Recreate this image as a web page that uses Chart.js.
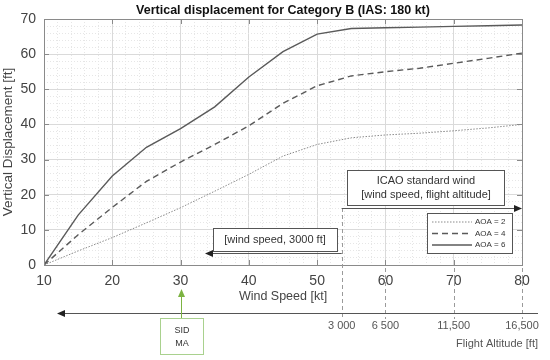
<!DOCTYPE html>
<html>
<head>
<meta charset="utf-8">
<script src="https://cdn.jsdelivr.net/npm/chart.js@4.4.1/dist/chart.umd.min.js"></script>
<style>
  html, body { margin: 0; padding: 0; background: #fff; }
  #wrap { width: 550px; height: 360px; }
</style>
</head>
<body>
<div id="wrap"><canvas id="dispChart"></canvas></div>
<script>
/* ================= DATA ================= */

const windSpeeds = [10, 15, 20, 25, 30, 35, 40, 45, 50, 55, 60, 65, 70, 75, 80];

const aoa2 = [0, 4, 7.8, 12, 16.3, 21, 25.8, 31, 34.3, 36.2, 37, 37.5, 38.2, 39, 40];
const aoa4 = [0, 8.6, 16.4, 23.8, 29.3, 34.3, 39.6, 46, 51, 53.8, 55, 56, 57.4, 58.8, 60.3];
const aoa6 = [0, 14.2, 25.3, 33.5, 38.8, 45, 53.5, 60.7, 65.7, 67.3, 67.5, 67.7, 67.9, 68.1, 68.3];

const seriesNames = ["AOA = 2", "AOA = 4", "AOA = 6"];

// flight altitude scale under the wind speed axis
const altitudeAt = [53.6, 60, 70, 80];
const altitudeLabels = ["3 000", "6 500", "11,500", "16,500"];

const FONT = "'Liberation Sans', Arial, sans-serif";

/* ================= HELPERS ================= */

function arrowHead(ctx, x, y, dir) {
  ctx.beginPath();
  ctx.moveTo(x, y);
  ctx.lineTo(x - dir * 8, y - 3.5);
  ctx.lineTo(x - dir * 8, y + 3.5);
  ctx.closePath();
  ctx.fill();
}

/* ================= EXTRA DRAWING ================= */

const extrasPlugin = {
  id: "extras",
  afterDraw(chart) {
    const ctx = chart.ctx;
    const area = chart.chartArea;
    const xs = chart.scales.x;
    const ys = chart.scales.y;

    ctx.save();

    // plot box + inward ticks
    ctx.strokeStyle = "#8a8a8a";
    ctx.lineWidth = 1;
    ctx.strokeRect(area.left + 0.5, area.top + 0.5, area.right - area.left, area.bottom - area.top);
    ctx.beginPath();
    for (let v = 20; v < 80; v += 10) {
      const px = Math.round(xs.getPixelForValue(v)) + 0.5;
      ctx.moveTo(px, area.bottom); ctx.lineTo(px, area.bottom - 5);
      ctx.moveTo(px, area.top); ctx.lineTo(px, area.top + 5);
    }
    for (let v = 10; v < 70; v += 10) {
      const py = Math.round(ys.getPixelForValue(v)) + 0.5;
      ctx.moveTo(area.left, py); ctx.lineTo(area.left + 5, py);
      ctx.moveTo(area.right, py); ctx.lineTo(area.right - 5, py);
    }
    ctx.stroke();

    // legend
    const lx = 427, ly = 213;
    ctx.fillStyle = "#fff";
    ctx.fillRect(lx, ly, 85, 40);
    ctx.strokeStyle = "#555";
    ctx.strokeRect(lx + 0.5, ly + 0.5, 85, 40);
    ctx.font = "8px " + FONT;
    ctx.textBaseline = "middle";
    chart.data.datasets.forEach((ds, i) => {
      const yy = ly + 9 + i * 11.5;
      ctx.strokeStyle = ds.borderColor;
      ctx.lineWidth = ds.borderWidth;
      ctx.setLineDash(ds.borderDash || []);
      ctx.beginPath();
      ctx.moveTo(lx + 5, yy);
      ctx.lineTo(lx + 45, yy);
      ctx.stroke();
      ctx.setLineDash([]);
      ctx.fillStyle = "#333";
      ctx.textAlign = "left";
      ctx.fillText(ds.label, lx + 48, yy);
    });
    ctx.lineWidth = 1;

    // dashed guides down to altitude axis
    const startPx = xs.getPixelForValue(altitudeAt[0]);
    ctx.strokeStyle = "#9a9a9a";
    ctx.setLineDash([4, 3]);
    ctx.beginPath();
    altitudeAt.forEach((v, i) => {
      const px = Math.round(xs.getPixelForValue(v)) + 0.5;
      ctx.moveTo(px, i === 0 ? 208 : area.bottom + 3);
      ctx.lineTo(px, 319);
    });
    ctx.stroke();
    ctx.setLineDash([]);

    // ICAO box + arrow right
    ctx.fillStyle = "#fff";
    ctx.fillRect(347, 170, 157, 35);
    ctx.strokeStyle = "#555";
    ctx.strokeRect(347.5, 170.5, 157, 35);
    ctx.fillStyle = "#333";
    ctx.font = "11px " + FONT;
    ctx.textAlign = "center";
    ctx.fillText("ICAO standard wind", 426, 181);
    ctx.fillText("[wind speed, flight altitude]", 426, 195);
    ctx.beginPath();
    ctx.moveTo(startPx, 208.5);
    ctx.lineTo(area.right - 2, 208.5);
    ctx.stroke();
    ctx.fillStyle = "#222";
    arrowHead(ctx, area.right, 208.5, 1);

    // 3000 ft box + arrow left
    ctx.fillStyle = "#fff";
    ctx.fillRect(213, 228, 124, 23);
    ctx.strokeRect(213.5, 228.5, 124, 23);
    ctx.fillStyle = "#333";
    ctx.fillText("[wind speed, 3000 ft]", 275, 240);
    ctx.beginPath();
    ctx.moveTo(startPx, 253.5);
    ctx.lineTo(208, 253.5);
    ctx.stroke();
    ctx.fillStyle = "#222";
    arrowHead(ctx, 205, 253.5, -1);

    // flight altitude axis
    ctx.strokeStyle = "#555";
    ctx.beginPath();
    ctx.moveTo(60, 313.5);
    ctx.lineTo(538, 313.5);
    ctx.stroke();
    arrowHead(ctx, 57, 313.5, -1);
    ctx.fillStyle = "#555";
    ctx.font = "11px " + FONT;
    altitudeAt.forEach((v, i) => {
      ctx.fillText(altitudeLabels[i], xs.getPixelForValue(v), 326);
    });
    ctx.textAlign = "right";
    ctx.fillText("Flight Altitude [ft]", 538, 344);

    // SID MA marker
    const sx = Math.round(xs.getPixelForValue(30)) + 0.5;
    ctx.strokeStyle = "#7cb342";
    ctx.fillStyle = "#7cb342";
    ctx.beginPath();
    ctx.moveTo(sx, 296);
    ctx.lineTo(sx, 318);
    ctx.stroke();
    ctx.beginPath();
    ctx.moveTo(sx, 289);
    ctx.lineTo(sx - 3.5, 297);
    ctx.lineTo(sx + 3.5, 297);
    ctx.closePath();
    ctx.fill();
    ctx.strokeStyle = "#a9d18e";
    ctx.fillStyle = "#fff";
    ctx.fillRect(160, 318, 43, 36);
    ctx.strokeRect(160.5, 318.5, 43, 36);
    ctx.fillStyle = "#333";
    ctx.font = "9px " + FONT;
    ctx.textAlign = "center";
    ctx.fillText("SID", 182, 331);
    ctx.fillText("MA", 182, 344);

    ctx.restore();
  }
};

/* ================= CHART ================= */

const isMajor = (ctx) => (ctx.tick && ctx.tick.value % 10 === 0);

new Chart(document.getElementById("dispChart"), {
  type: "line",
  data: {
    labels: windSpeeds,
    datasets: [
      {
        label: seriesNames[0],
        data: windSpeeds.map((w, i) => ({ x: w, y: aoa2[i] })),
        borderColor: "#8a8a8a",
        borderWidth: 1,
        borderDash: [1.5, 1.5],
        pointRadius: 0,
        fill: false
      },
      {
        label: seriesNames[1],
        data: windSpeeds.map((w, i) => ({ x: w, y: aoa4[i] })),
        borderColor: "#5a5a5a",
        borderWidth: 1.4,
        borderDash: [6, 4],
        pointRadius: 0,
        fill: false
      },
      {
        label: seriesNames[2],
        data: windSpeeds.map((w, i) => ({ x: w, y: aoa6[i] })),
        borderColor: "#5a5a5a",
        borderWidth: 1.4,
        pointRadius: 0,
        fill: false
      }
    ]
  },
  options: {
    responsive: true,
    maintainAspectRatio: false,
    animation: false,
    layout: { padding: { top: 0, left: 0, right: 28, bottom: 55 } },
    plugins: {
      legend: { display: false },
      tooltip: { enabled: false },
      title: {
        display: true,
        fullSize: false,
        text: "Vertical displacement for Category B (IAS: 180 kt)",
        color: "#111",
        font: { family: FONT, size: 12.5, weight: "bold" },
        padding: { top: 3, bottom: 1 }
      }
    },
    scales: {
      x: {
        type: "linear",
        min: 10,
        max: 80,
        afterFit: (s) => { s.height = 40; },
        ticks: {
          stepSize: 2,
          maxTicksLimit: 100,
          autoSkip: false,
          maxRotation: 0,
          padding: 8,
          color: "#444",
          font: { family: FONT, size: 14 },
          callback: (v) => (v % 10 === 0 ? v : "")
        },
        grid: {
          drawTicks: false,
          color: (c) => (isMajor(c) ? "#dadada" : "#e6e6e6")
        },
        border: {
          display: false,
          dash: (c) => (isMajor(c) ? [] : [1, 2])
        },
        title: {
          display: true,
          text: "Wind Speed [kt]",
          color: "#444",
          font: { family: FONT, size: 12.5 },
          padding: { top: 0, bottom: 1 }
        }
      },
      y: {
        min: 0,
        max: 70,
        afterFit: (s) => { s.width = 44; },
        ticks: {
          stepSize: 2,
          maxTicksLimit: 100,
          autoSkip: false,
          padding: 8,
          color: "#444",
          font: { family: FONT, size: 14 },
          callback: (v) => (v % 10 === 0 ? v : "")
        },
        grid: {
          drawTicks: false,
          color: (c) => (isMajor(c) ? "#dadada" : "#e6e6e6")
        },
        border: {
          display: false,
          dash: (c) => (isMajor(c) ? [] : [1, 2])
        },
        title: {
          display: true,
          text: "Vertical Displacement [ft]",
          color: "#444",
          font: { family: FONT, size: 13.5 },
          padding: { top: 0, bottom: 0 }
        }
      }
    }
  },
  plugins: [extrasPlugin]
});
</script>
</body>
</html>
